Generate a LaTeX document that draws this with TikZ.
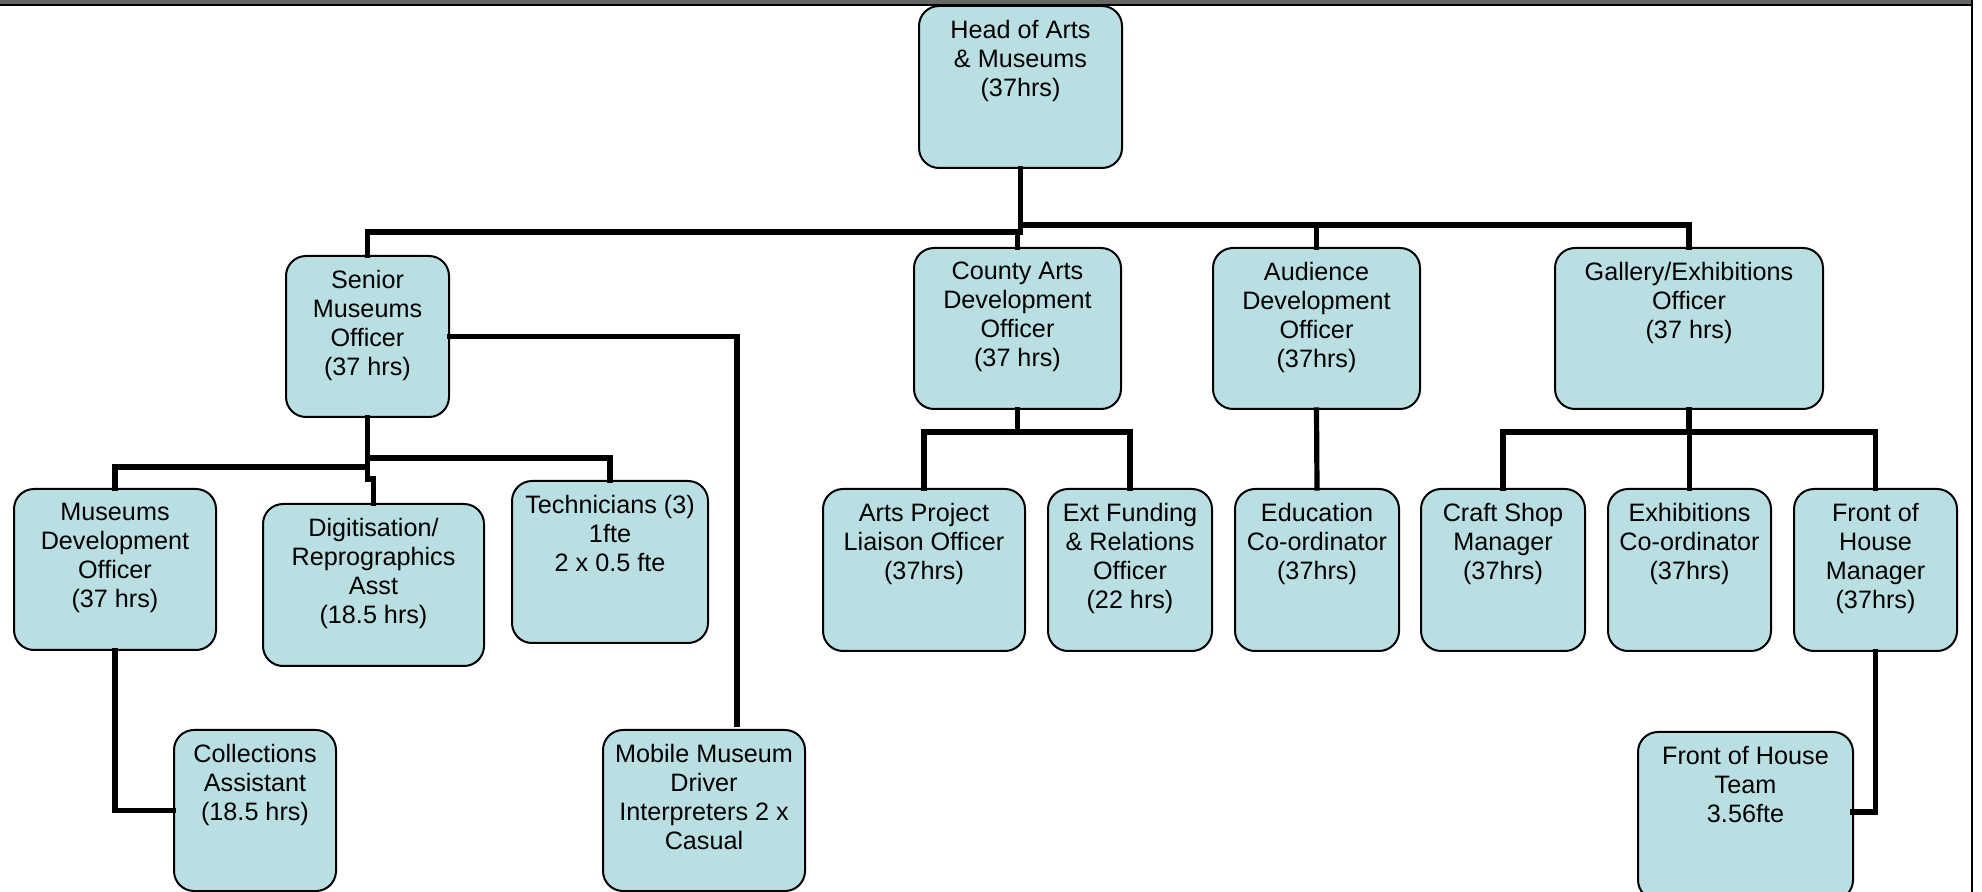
\documentclass[tikz,border=0pt]{standalone}
\usepackage{fontspec}
\setmainfont{Liberation Sans}
\usetikzlibrary{fit,calc}
\definecolor{boxfill}{RGB}{186,223,227}
\definecolor{topbar}{RGB}{102,102,102}
\tikzset{
  box/.style={draw=black, line width=1pt, fill=boxfill, rounded corners=10pt, inner sep=0pt},
  txt/.style={anchor=north, align=center, inner sep=0pt, font=\fontsize{12.6}{14.5}\selectfont},
  conn/.style={draw=black, line width=2.6pt, line cap=rect},
}
\newcommand\pbox[6]{%
  \node[box, fit={(#2,#3)(#4,#5)}] (#1) {};
  \node[txt] (#1-t) at ($(#1.north)+(0,15)$) {#6};
}
\begin{document}
\begin{tikzpicture}[x=0.5pt,y=-0.5pt]
\useasboundingbox (0,0) rectangle (1982,892);
\clip (0,0) rectangle (1982,892);
% frame
\fill[topbar] (0,0) rectangle (1972,5);
\draw[line width=0.8pt] (0,5) -- (1972,5);
\draw[line width=1pt] (1972,0) -- (1972,892);
% boxes
\pbox{head}{919}{6}{1122}{168}{Head of Arts\\\& Museums\\(37hrs)}
\pbox{senior}{286}{256}{449}{417}{Senior\\Museums\\Officer\\(37 hrs)}
\pbox{county}{914}{248}{1121}{409}{County Arts\\Development\\Officer\\(37 hrs)}
\pbox{aud}{1213}{248}{1420}{409}{Audience\\Development\\Officer\\(37hrs)}
\pbox{gallery}{1555}{248}{1823}{409}{Gallery/Exhibitions\\Officer\\(37 hrs)}
\pbox{musdev}{14}{489}{216}{650}{Museums\\Development\\Officer\\(37 hrs)}
\pbox{digit}{263}{504}{484}{666}{Digitisation/\\Reprographics\\Asst\\(18.5 hrs)}
\pbox{tech}{512}{481}{708}{643}{Technicians (3)\\1fte\\2 x 0.5 fte}
\pbox{artsproj}{823}{489}{1025}{651}{Arts Project\\Liaison Officer\\(37hrs)}
\pbox{extfund}{1048}{489}{1212}{651}{Ext Funding\\\& Relations\\Officer\\(22 hrs)}
\pbox{edu}{1235}{489}{1399}{651}{Education\\Co-ordinator\\(37hrs)}
\pbox{craft}{1421}{489}{1585}{651}{Craft Shop\\Manager\\(37hrs)}
\pbox{exhib}{1608}{489}{1771}{651}{Exhibitions\\Co-ordinator\\(37hrs)}
\pbox{fohm}{1794}{489}{1957}{651}{Front of\\House\\Manager\\(37hrs)}
\pbox{coll}{174}{730}{336}{891}{Collections\\Assistant\\(18.5 hrs)}
\pbox{mobile}{603}{730}{805}{891}{Mobile Museum\\Driver\\Interpreters 2 x\\Casual}
\pbox{fohteam}{1638}{732}{1853}{900}{Front of House\\Team\\3.56fte}
% connectors: head
\draw[conn] (head.south) -- (head.south |- 0,232);
\draw[conn] (senior.north) -- (senior.north |- 0,232) -- (head.south |- 0,232);
\draw[conn] (county.north) -- (county.north |- 0,232);
\draw[conn] (head.south |- 0,225) -- (gallery.north |- 0,225) -- (gallery.north);
\draw[conn] (aud.north) -- (aud.north |- 0,225);
% senior
\draw[conn] (senior.south) -- (senior.south |- 0,467);
\draw[conn] (musdev.north) -- (musdev.north |- 0,467) -- (senior.south |- 0,467);
\draw[conn] (senior.south |- 0,458) -- (tech.north |- 0,458) -- (tech.north);
\draw[conn] (senior.south |- 0,467) -- ($(senior.south |- 0,479)$) -- (digit.north |- 0,479) -- (digit.north);
\coordinate (mobtop) at (737,724);
\draw[conn] (senior.east) -| (mobtop);
\draw[conn] (musdev.south) |- (coll.west);
% county
\draw[conn] (county.south) -- (county.south |- 0,432);
\draw[conn] (artsproj.north) -- (artsproj.north |- 0,432) -- (extfund.north |- 0,432) -- (extfund.north);
% audience
\draw[conn] (aud.south) -- (edu.north);
% gallery
\draw[conn] (gallery.south) -- (gallery.south |- 0,432);
\draw[conn] (craft.north) -- (craft.north |- 0,432) -- (fohm.north |- 0,432) -- (fohm.north);
\draw[conn] (exhib.north) -- (exhib.north |- 0,432);
\coordinate (fohj) at (1853,812);
\draw[conn] (fohm.south) |- (fohj);
\end{tikzpicture}
\end{document}
